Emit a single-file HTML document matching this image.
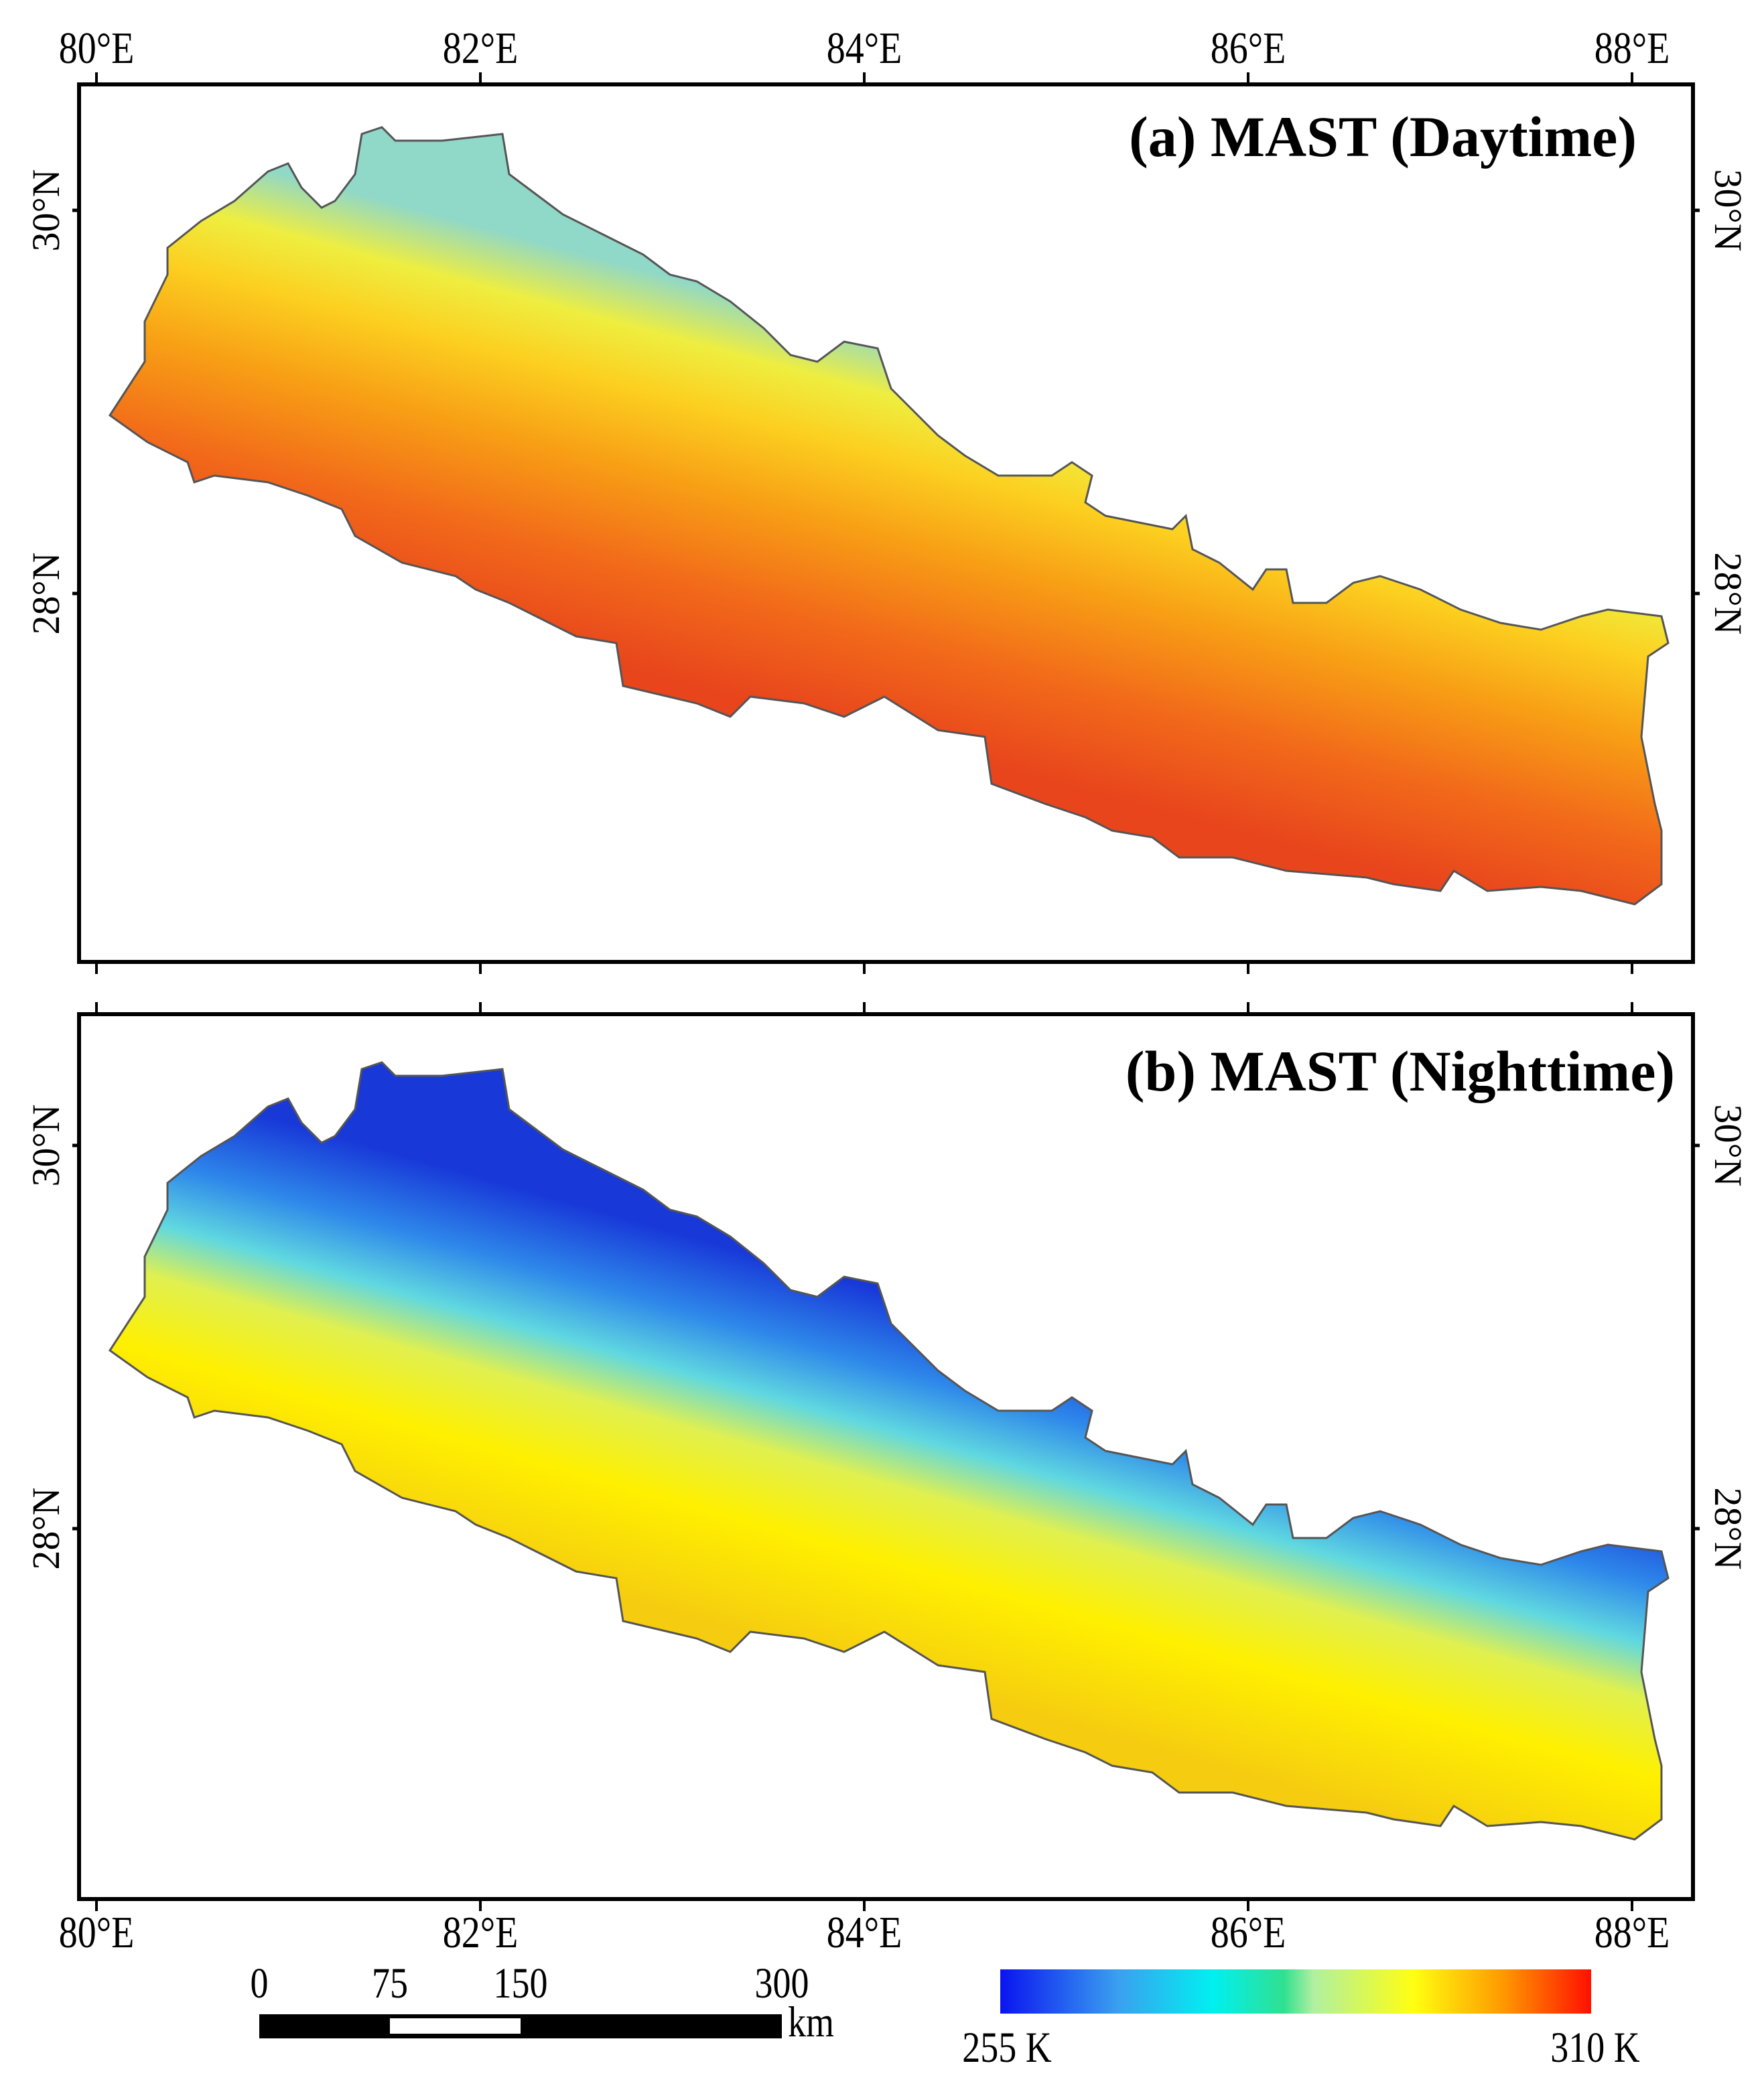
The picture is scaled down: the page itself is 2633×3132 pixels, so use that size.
<!DOCTYPE html>
<html><head><meta charset="utf-8"><style>
html,body{margin:0;padding:0;background:#fff;}
svg{display:block;font-family:"Liberation Serif",serif;}
</style></head><body>
<svg id="fig" width="2633" height="3132" viewBox="0 0 2633 3132" xmlns="http://www.w3.org/2000/svg">
<defs>
<linearGradient id="dayGrad" gradientUnits="userSpaceOnUse" x1="1250" y1="1080" x2="1400" y2="520">
<stop offset="0" stop-color="#e8451c"/>
<stop offset="0.25" stop-color="#f26a1a"/>
<stop offset="0.5" stop-color="#f8a015"/>
<stop offset="0.7" stop-color="#fcd020"/>
<stop offset="0.85" stop-color="#eeee40"/>
<stop offset="1" stop-color="#90d8c8"/>
</linearGradient>
<linearGradient id="nightGrad" gradientUnits="userSpaceOnUse" x1="1250" y1="2480" x2="1400" y2="1950">
<stop offset="0" stop-color="#f5cc10"/>
<stop offset="0.3" stop-color="#fff000"/>
<stop offset="0.5" stop-color="#e0f050"/>
<stop offset="0.64" stop-color="#60d8e0"/>
<stop offset="0.8" stop-color="#2e88ea"/>
<stop offset="1" stop-color="#1838d8"/>
</linearGradient>
<linearGradient id="cbarGrad" x1="0" y1="0" x2="1" y2="0">
<stop offset="0" stop-color="#0a14f0"/>
<stop offset="0.2" stop-color="#3aa0f0"/>
<stop offset="0.36" stop-color="#00f0f0"/>
<stop offset="0.48" stop-color="#30e090"/>
<stop offset="0.53" stop-color="#b0f0a0"/>
<stop offset="0.7" stop-color="#ffff10"/>
<stop offset="0.85" stop-color="#ff9a00"/>
<stop offset="1" stop-color="#ff1000"/>
</linearGradient>
</defs>
<g id="layer"></g>
</svg>
<script>
// Axis tick values
const lonTicks = [80, 82, 84, 86, 88];
const latTicks = [30, 28];
const lonLabels = ["80°E","82°E","84°E","86°E","88°E"];
const latLabels = ["30°N","28°N"];
const scaleKm = [0, 75, 150, 300];
const cbarLabels = ["255 K","310 K"];
// Nepal outline
const outlineTrace = [[82,310],[95,290],[108,270],[108,240],[125,205],[125,185],[150,165],[175,150],[200,128],[215,122],[225,140],[240,155],[250,150],[265,130],[270,100],[285,95],[295,105],[330,105],[375,100],[380,130],[400,145],[420,160],[450,175],[480,190],[500,205],[520,210],[545,225],[570,245],[590,265],[610,270],[630,255],[655,260],[665,290],[680,305],[700,325],[720,340],[745,355],[785,355],[800,345],[815,355],[810,375],[825,385],[850,390],[875,395],[885,385],[890,410],[910,420],[935,440],[945,425],[960,425],[965,450],[990,450],[1010,435],[1030,430],[1060,440],[1090,455],[1120,465],[1150,470],[1180,460],[1200,455],[1240,460],[1245,480],[1230,490],[1225,550],[1235,600],[1240,620],[1240,660],[1220,675],[1200,670],[1180,665],[1150,662],[1110,665],[1085,650],[1075,665],[1040,660],[1020,655],[960,650],[920,640],[880,640],[860,625],[830,620],[810,610],[780,600],[740,585],[735,550],[700,545],[660,520],[630,535],[600,525],[560,520],[545,535],[520,525],[465,512],[460,480],[430,475],[400,460],[380,450],[355,440],[340,430],[300,420],[265,400],[255,380],[230,370],[200,360],[160,355],[145,360],[140,345],[110,330],[82,310]];
const outline = outlineTrace.map(p => [80 + (p[0]*2 - 144)/286.5, 30 - (p[1]*2 - 314)/286]);

const NS = "http://www.w3.org/2000/svg";
const layer = document.getElementById('layer');
function el(tag, attrs, parent){const e=document.createElementNS(NS,tag);for(const k in attrs)e.setAttribute(k,attrs[k]);(parent||layer).appendChild(e);return e;}
const xOf = lon => 144 + (lon - 80) * 286.5;
const panels = [
  {id:'a', top:126, bottom:1436, y30:314, title:'(a) MAST (Daytime)', tx:2443, ty:233, fill:'url(#dayGrad)', topLabels:true, bottomLabels:false},
  {id:'b', top:1514, bottom:2835, y30:1710, title:'(b) MAST (Nighttime)', tx:2500, ty:1628, fill:'url(#nightGrad)', topLabels:false, bottomLabels:true}
];
const L = 118, R = 2527;
panels.forEach(p => {
  const yOf = lat => p.y30 + (30 - lat) * 286;
  const g = el('g', {});
  
  
  const d = outline.map((q,i)=>(i?'L':'M')+xOf(q[0]).toFixed(1)+' '+yOf(q[1]).toFixed(1)).join(' ')+'Z';
  const shape = el('path', {d:d, fill:p.fill, stroke:'#555', 'stroke-width':3}, g);
  
  
  const frame = el('rect', {x:L, y:p.top, width:R-L, height:p.bottom-p.top, fill:'none', stroke:'#000', 'stroke-width':6}, g);
  
  
  lonTicks.forEach((lon,i) => {
    const x = xOf(lon);
    el('line', {x1:x, y1:p.top, x2:x, y2:p.top-18, stroke:'#000','stroke-width':4}, g);
    el('line', {x1:x, y1:p.bottom, x2:x, y2:p.bottom+18, stroke:'#000','stroke-width':4}, g);
    if (p.topLabels) {
      const t = el('text', {x:0, y:0, 'font-size':56, 'text-anchor':'middle', transform:`translate(${x} ${p.top-32}) scale(1,1.2)`}, g);
      t.textContent = lonLabels[i];
      
      
    }
    if (p.bottomLabels) {
      const t = el('text', {x:0, y:0, 'font-size':56, 'text-anchor':'middle', transform:`translate(${x} ${p.bottom+72}) scale(1,1.2)`}, g);
      t.textContent = lonLabels[i];
      
      
    }
  });
  latTicks.forEach((lat,i) => {
    const y = yOf(lat);
    el('line', {x1:L, y1:y, x2:L-10, y2:y, stroke:'#000','stroke-width':5}, g);
    el('line', {x1:R, y1:y, x2:R+10, y2:y, stroke:'#000','stroke-width':5}, g);
    const tl = el('text', {x:0, y:0, 'font-size':58, 'text-anchor':'middle', transform:`translate(88 ${y}) rotate(-90)`}, g);
    tl.textContent = latLabels[i];
    
    
    const tr = el('text', {x:0, y:0, 'font-size':58, 'text-anchor':'middle', transform:`translate(2560 ${y}) rotate(90)`}, g);
    tr.textContent = latLabels[i];
    
    
  });
  const tt = el('text', {x:p.tx, y:p.ty, 'font-size':86, 'font-weight':'bold', 'text-anchor':'end'}, g);
  tt.textContent = p.title;
  
  
});
// Scale bar
const sb = el('g', {});


const kmX = km => 387 + km * (1167 - 387) / 300;
el('rect', {x:kmX(0), y:3007, width:kmX(300)-kmX(0), height:36, fill:'#000'}, sb);
el('rect', {x:kmX(75), y:3013, width:kmX(150)-kmX(75), height:23, fill:'#fff'}, sb);
scaleKm.forEach(km => {
  const t = el('text', {x:0, y:0, 'font-size':54, 'text-anchor':'middle', transform:`translate(${kmX(km)} 2982) scale(1,1.2)`}, sb);
  t.textContent = km;
  
  
});
const km = el('text', {x:0, y:0, 'font-size':54, transform:'translate(1176 3040) scale(1,1.2)'}, sb); km.textContent = 'km';


// Colorbar
const cb = el('g', {});


el('rect', {x:1493, y:2940, width:882, height:66, fill:'url(#cbarGrad)'}, cb);
[[1503,cbarLabels[0]],[2381,cbarLabels[1]]].forEach(v => {
  const t = el('text', {x:0, y:0, 'font-size':54, 'text-anchor':'middle', transform:`translate(${v[0]} 3078) scale(1,1.2)`}, cb);
  t.textContent = v[1];
  
  
});
</script>
</body></html>
